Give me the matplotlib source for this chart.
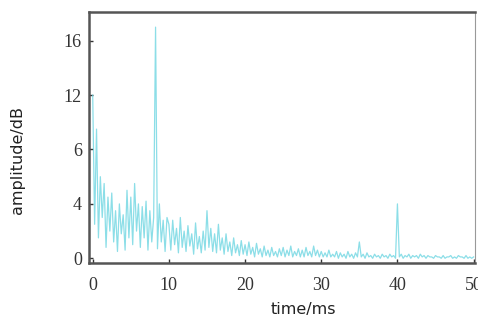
import numpy as np
import matplotlib
matplotlib.use("Agg")
import matplotlib.pyplot as plt

# time axis (ms), step 0.25
time_ms = np.arange(0, 50.001, 0.25)
amplitude = [
    12.0, 2.5, 9.5, 1.5, 6.0, 3.0, 5.5, 0.8, 4.5, 2.0, 4.8, 1.2, 3.5, 0.5, 4.0, 1.8, 3.2, 0.6, 5.0, 1.5,
    4.5, 1.0, 5.5, 2.0, 4.0, 0.8, 3.8, 1.5, 4.2, 0.6, 3.5, 1.2, 3.0, 17.0, 0.7, 4.0, 1.2, 2.8, 0.5, 3.0,
    2.5, 0.6, 2.8, 1.0, 2.2, 0.4, 3.0, 0.8, 2.0, 0.5, 2.4, 0.9, 1.8, 0.3, 2.6, 0.7, 1.6, 0.4, 2.0, 0.6,
    3.5, 0.8, 2.2, 0.5, 1.8, 0.4, 2.5, 0.6, 1.5, 0.3, 1.8, 0.5, 1.2, 0.2, 1.5, 0.4, 1.0, 0.2, 1.3, 0.3,
    1.0, 0.2, 1.2, 0.3, 0.8, 0.1, 1.1, 0.3, 0.7, 0.1, 0.9, 0.2, 0.6, 0.1, 0.8, 0.2, 0.5, 0.1, 0.7, 0.2,
    0.8, 0.1, 0.6, 0.2, 0.9, 0.1, 0.5, 0.2, 0.7, 0.1, 0.6, 0.1, 0.8, 0.2, 0.5, 0.1, 0.9, 0.2, 0.6, 0.1,
    0.5, 0.1, 0.4, 0.1, 0.6, 0.1, 0.3, 0.1, 0.5, 0.0, 0.4, 0.1, 0.3, 0.0, 0.5, 0.1, 0.3, 0.0, 0.4, 0.1,
    1.2, 0.1, 0.3, 0.0, 0.4, 0.1, 0.2, 0.0, 0.3, 0.1, 0.2, 0.0, 0.3, 0.1, 0.2, 0.0, 0.3, 0.1, 0.2, 0.0,
    4.0, 0.1, 0.3, 0.0, 0.2, 0.1, 0.3, 0.0, 0.2, 0.1, 0.2, 0.0, 0.3, 0.1, 0.2, 0.0, 0.2, 0.1, 0.1, 0.0,
    0.2, 0.1, 0.1, 0.0, 0.2, 0.0, 0.1, 0.1, 0.2, 0.0, 0.1, 0.0, 0.2, 0.1, 0.1, 0.0, 0.2, 0.0, 0.1, 0.0, 0.1,
]
x_ticks = [0, 10, 20, 30, 40, 50]
x_tick_labels = ["0", "10", "20", "30", "40", "50"]
y_ticks = [0, 4, 8, 12, 16]
y_tick_labels = ["0", "4", "6", "12", "16"]

fig = plt.figure(figsize=(4.78, 3.2), dpi=100)
ax = fig.add_axes([0.186, 0.178, 0.808, 0.784])
ax.plot(time_ms, amplitude, color="#6fd6e2", lw=0.9, alpha=0.8)
ax.set_xlim(-0.5, 50.2)
ax.set_ylim(-0.35, 18.1)

ax.set_xticks(x_ticks)
ax.set_xticklabels(x_tick_labels, family="Liberation Serif", fontsize=13, color="#333333")
ax.set_yticks(y_ticks)
ax.set_yticklabels(y_tick_labels, family="Liberation Serif", fontsize=13, color="#333333")
ax.tick_params(axis="y", direction="in", length=3, width=1, colors="#333333", pad=5)
ax.tick_params(axis="x", direction="in", length=3, width=1, colors="#333333", pad=10)

for s in ["left", "bottom", "top"]:
    ax.spines[s].set_linewidth(1.8)
    ax.spines[s].set_color("#555555")
ax.spines["right"].set_linewidth(0.8)
ax.spines["right"].set_color("#999999")

ax.set_xlabel("time/ms", fontsize=11.5, family="DejaVu Sans", color="#222222")
ax.xaxis.set_label_coords(0.555, -0.155)
ax.set_ylabel("amplitude/dB", fontsize=11.5, family="DejaVu Sans", color="#222222")
ax.yaxis.set_label_coords(-0.165, 0.41)

fig.savefig("out.png", dpi=100)
